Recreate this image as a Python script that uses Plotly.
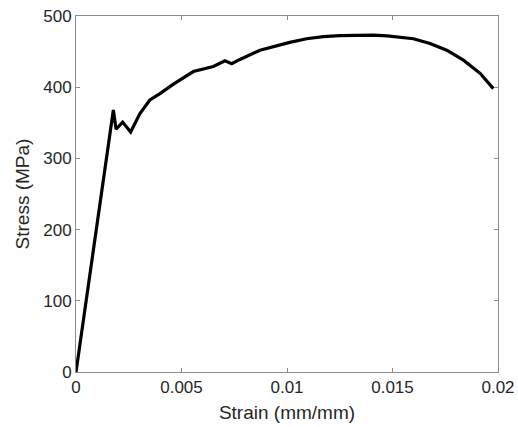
import plotly.graph_objects as go

strain = [0, 0.00177, 0.0019, 0.00221, 0.00259, 0.00303, 0.0035, 0.00398, 0.0046,
          0.00524, 0.00556, 0.00651, 0.00706, 0.00738, 0.00777, 0.00872, 0.00935,
          0.01013, 0.01093, 0.01172, 0.01251, 0.0133, 0.01409, 0.01475, 0.01536,
          0.01599, 0.01678, 0.01757, 0.01836, 0.01915, 0.01978]
stress = [0, 368, 341, 351, 337, 363, 382, 391, 404, 416, 422, 429, 437, 433, 439,
          452, 457, 463, 468, 471, 472.5, 473, 473, 472, 470.5, 468, 461.5, 452, 438,
          419.5, 398]

x_ticks = [0, 0.005, 0.01, 0.015, 0.02]
x_labels = ["0", "0.005", "0.01", "0.015", "0.02"]
y_ticks = [0, 100, 200, 300, 400, 500]

FONT = "Liberation Sans, Arial, sans-serif"

fig = go.Figure()
fig.add_trace(go.Scatter(x=strain, y=stress, mode="lines",
                         line=dict(color="black", width=3.2), hoverinfo="skip"))

axis_common = dict(showgrid=False, zeroline=False, showline=True, linecolor="#8c8c8c",
                   linewidth=1, mirror="ticks", ticks="inside", ticklen=4,
                   tickcolor="#8c8c8c", automargin=False,
                   tickfont=dict(family=FONT, size=17, color="#262626"))

fig.update_layout(
    width=518, height=427,
    margin=dict(l=76, r=20, t=16, b=55),
    paper_bgcolor="white", plot_bgcolor="white",
    showlegend=False,
    xaxis=dict(range=[0, 0.02], tickvals=x_ticks, ticktext=x_labels,
               title=dict(text="Strain (mm/mm)", standoff=9,
                          font=dict(family=FONT, size=19, color="#262626")),
               **axis_common),
    yaxis=dict(range=[0, 500], tickvals=y_ticks,
               title=dict(text="Stress (MPa)", standoff=8,
                          font=dict(family=FONT, size=19, color="#262626")),
               **axis_common),
)

fig.write_html("out.html",
               config={"displayModeBar": False, "staticPlot": True},
               post_script="document.body.style.margin='0';document.body.style.overflow='hidden';")
